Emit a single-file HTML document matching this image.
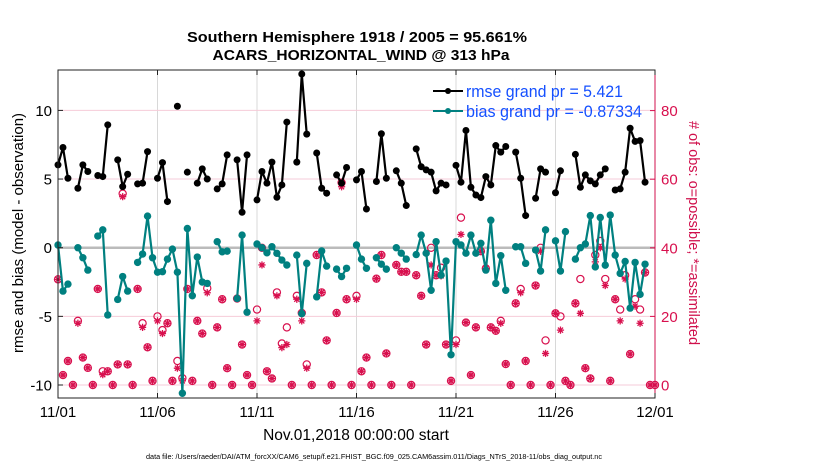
<!DOCTYPE html>
<html><head><meta charset="utf-8"><style>
html,body{margin:0;padding:0;background:#fff;}
svg{display:block;font-family:"Liberation Sans",Arial,sans-serif;}
</style></head><body>
<svg id="chart" width="830" height="470" viewBox="0 0 830 470" xmlns="http://www.w3.org/2000/svg">
<text x="357" y="42" text-anchor="middle" font-size="14.5" font-weight="bold" textLength="340" lengthAdjust="spacingAndGlyphs">Southern Hemisphere 1918 / 2005 = 95.661%</text>
<text x="361" y="60" text-anchor="middle" font-size="14.5" font-weight="bold" textLength="297" lengthAdjust="spacingAndGlyphs">ACARS_HORIZONTAL_WIND @ 313 hPa</text>
<g id="grid"></g>
<g id="marks"></g>
<rect x="58" y="70" width="597" height="328" fill="none" stroke="#222" stroke-width="1"/>
<line x1="655" y1="70" x2="655" y2="398" stroke="#d0104c" stroke-width="1"/>
<g id="axes"></g>
<g>
 <line x1="433" y1="91" x2="463" y2="91" stroke="#000" stroke-width="2"/>
 <circle cx="448" cy="91" r="3" fill="#000"/>
 <text x="466" y="97" font-size="16.5" fill="#1550ff" textLength="157" lengthAdjust="spacingAndGlyphs">rmse grand pr = 5.421</text>
 <line x1="433" y1="111" x2="463" y2="111" stroke="#008080" stroke-width="2"/>
 <circle cx="448" cy="111" r="3" fill="#008080"/>
 <text x="466" y="117" font-size="16.5" fill="#1550ff" textLength="176" lengthAdjust="spacingAndGlyphs">bias grand pr = -0.87334</text>
</g>
<text transform="translate(23,233) rotate(-90)" text-anchor="middle" font-size="15">rmse and bias (model - observation)</text>
<text transform="translate(689,233) rotate(90)" text-anchor="middle" font-size="14.5" fill="#d0104c">#  of obs: o=possible; *=assimilated</text>
<text x="356" y="440" text-anchor="middle" font-size="15.5">Nov.01,2018 00:00:00 start</text>
<text x="374" y="459" text-anchor="middle" font-size="7" textLength="456" lengthAdjust="spacingAndGlyphs">data file: /Users/raeder/DAI/ATM_forcXX/CAM6_setup/f.e21.FHIST_BGC.f09_025.CAM6assim.011/Diags_NTrS_2018-11/obs_diag_output.nc</text>
</svg>
<script>
const xTickLabels = ["11/01","11/06","11/11","11/16","11/21","11/26","12/01"];
const yLeftTicks = [-10,-5,0,5,10];
const yRightTicks = [0,20,40,60,80];
const n = null;
const rmse = [6.03,7.3,5.06,n,4.33,6.03,5.55,n,5.26,5.18,8.95,n,6.4,4.45,5.35,n,4.65,4.7,7.0,n,5.06,6.2,3.36,n,10.3,n,5.5,n,4.7,5.74,5.0,n,4.28,4.65,6.76,n,6.4,2.58,6.76,n,3.48,5.55,4.7,6.23,3.67,4.57,9.15,n,6.23,12.65,8.27,n,6.9,4.33,3.97,n,5.3,4.7,5.84,n,4.94,5.55,2.82,n,4.82,8.3,5.06,n,5.6,4.7,3.07,n,7.2,5.9,5.67,5.5,4.14,4.7,4.57,n,6.0,4.77,8.54,4.4,3.84,3.65,5.18,4.57,7.44,6.96,7.37,n,6.96,5.06,2.34,n,3.6,5.74,5.5,n,4.0,5.6,n,n,6.8,4.4,5.3,4.87,4.65,5.3,5.74,n,4.2,4.28,5.5,8.7,7.74,7.8,4.77,n,n];
const bias = [0.2,-3.16,-2.65,n,0,-0.73,-1.63,n,0.85,1.3,-4.9,n,-3.77,-2.1,-3.16,n,-1.07,-0.46,2.3,-0.73,-1.78,-1.75,-0.83,-0.1,-1.78,-10.6,1.4,-3.5,-0.68,-2.5,-2.6,n,0.44,-0.3,-0.25,n,-3.7,0.92,-4.7,n,0.27,0.0,-0.37,0.07,-0.41,-0.9,-1.26,n,-0.54,-4.8,-1.14,n,-3.58,-0.24,-1.34,n,-1.56,-2.1,-1.5,n,0.2,-0.83,-1.5,n,-0.73,-1.2,-1.56,n,0,-0.4,-0.83,n,-0.5,0.92,-0.4,-3.1,0.44,-2.0,-0.97,-7.8,0.44,0.2,-0.4,0.92,-0.4,0.32,-1.63,2.0,-2.6,-0.58,-3.1,n,0.07,0.07,-1.14,n,-0.17,-1.7,1.3,n,0.5,-1.7,1.17,n,-0.83,0,0.27,2.34,-1.4,2.2,-1.27,2.38,-0.54,-1.87,-1.0,-4.4,-1.07,-3.4,-1.2,n,n];
const nPossible = [30.8,2.9,7,0,18.7,8,5,0,28,4,4,0,6,55.8,6,0,28,18,11,1.2,20,16,18,1.2,7,2,28,1.2,18.7,15,28.2,0,16.8,25,4.9,0,25.2,11.8,2.9,0,22,40,4,1.9,27,12.1,16.8,0,26,21,6,0,37.9,27,13,0,21,59,25,0,26,4,8,0,31,37.9,9.2,0,35,33,33,0,32,26,11.8,40,32,34.2,11.8,1.2,13,48.8,18.2,2.9,16.8,39,34,16.8,15.8,18.7,6.1,0,23.8,28,7,0,29,40,13,0,20.9,20,1.2,0,23.8,30.9,4.9,1.9,37.9,42,30.9,1.2,25,22,32,9,25,22,32.8,0,0];
const nAssim = [30.8,2.9,7,0,18,8,5,0,28,3,4,0,6,54.9,6,0,28,16.8,11,1.2,18.7,15,18,1.2,4.9,1.2,28,1.2,18.7,15,26.9,0,16.8,25,4.9,0,25.2,11.8,2.9,0,18.7,35,4,1.9,26,10.9,11.8,0,25,18.7,4.9,0,37.9,27,13,0,21,57.8,25,0,25,4,8,0,31,37.9,9.2,0,35,33,33,0,32,26,11.8,35,32,31.8,11.8,1.2,11.8,43.9,18.2,2.9,16.8,39,34,16.8,15.8,18,6.1,0,23.8,26.9,7,0,29,39,9.2,0,20.9,16,1.2,0,23.8,20.9,4.9,1.9,35.9,40,29,1.2,25,18.7,30.9,9,23,18,32.8,0,0];

const NS='http://www.w3.org/2000/svg';
const X0=58, X1=655, NSTEP=120;
const xPos = i => X0 + (X1-X0)*i/NSTEP;
const yL = v => 247.7 - v*13.73;
const yR = v => 385 - v*3.43;
const RED='#d8104e', TEAL='#008080';
function mk(tag, attrs, parent){const e=document.createElementNS(NS,tag);for(const k in attrs)e.setAttribute(k,attrs[k]);parent.appendChild(e);return e;}
const grid=document.getElementById('grid'), marks=document.getElementById('marks'), axes=document.getElementById('axes');

xTickLabels.forEach((lab,k)=>{
  const x=xPos(k*20);
  if(k>0&&k<xTickLabels.length-1){
    const g=mk('line',{x1:x,y1:70,x2:x,y2:398,stroke:'#d8d8d8','stroke-width':1},grid);
    
    
  }
  mk('line',{x1:x,y1:398,x2:x,y2:393,stroke:'#222'},axes);
  mk('line',{x1:x,y1:70,x2:x,y2:75,stroke:'#222'},axes);
  const t=mk('text',{x:x,y:417,'text-anchor':'middle','font-size':15},axes);
  t.textContent=lab;
  
  
});
yLeftTicks.forEach(v=>{
  const y=yL(v);
  if(v!==0){
    const g=mk('line',{x1:X0,y1:y,x2:X1,y2:y,stroke:'#f6cbd8','stroke-width':1},grid);
    
    
  }
  mk('line',{x1:X0,y1:y,x2:X0+5,y2:y,stroke:'#222'},axes);
  const t=mk('text',{x:X0-6,y:y+5.5,'text-anchor':'end','font-size':15},axes);
  t.textContent=String(v);
  
  
});
const zl=mk('line',{x1:X0,y1:yL(0),x2:X1,y2:yL(0),stroke:'#bbbbbb','stroke-width':2.5},grid);


yRightTicks.forEach(v=>{
  const y=yR(v);
  mk('line',{x1:X1,y1:y,x2:X1-5,y2:y,stroke:RED},axes);
  const t=mk('text',{x:X1+6,y:y+5.5,'font-size':15,fill:RED},axes);
  t.textContent=String(v);
  
  
});

function star(x,y,parent){
  const r=3.6;let d='';
  for(let a=0;a<4;a++){const th=a*Math.PI/4;d+=`M${x-r*Math.cos(th)},${y-r*Math.sin(th)}L${x+r*Math.cos(th)},${y+r*Math.sin(th)}`;}
  return mk('path',{d:d,stroke:RED,'stroke-width':1.3,fill:'none'},parent);
}
nPossible.forEach((v,i)=>{
  if(v==null)return;
  const c=mk('circle',{cx:xPos(i),cy:yR(v),r:3.6,fill:'none',stroke:RED,'stroke-width':1.2},marks);
  
  
});
nAssim.forEach((v,i)=>{
  if(v==null)return;
  const s=star(xPos(i),yR(v),marks);
  
  
});

function series(arr,color,name,r){
  let d='',pen=false;
  arr.forEach((v,i)=>{
    if(v==null){pen=false;return;}
    d+=(pen?'L':'M')+xPos(i)+','+yL(v);pen=true;
  });
  const p=mk('path',{d:d,fill:'none',stroke:color,'stroke-width':2.2,'stroke-linejoin':'round'},marks);
  
  
  arr.forEach((v,i)=>{
    if(v==null)return;
    const c=mk('circle',{cx:xPos(i),cy:yL(v),r:r,fill:color},marks);
    
    
  });
}
series(bias,TEAL,'bias',3.7);
series(rmse,'#000','rmse',3.5);
</script>
</body></html>
